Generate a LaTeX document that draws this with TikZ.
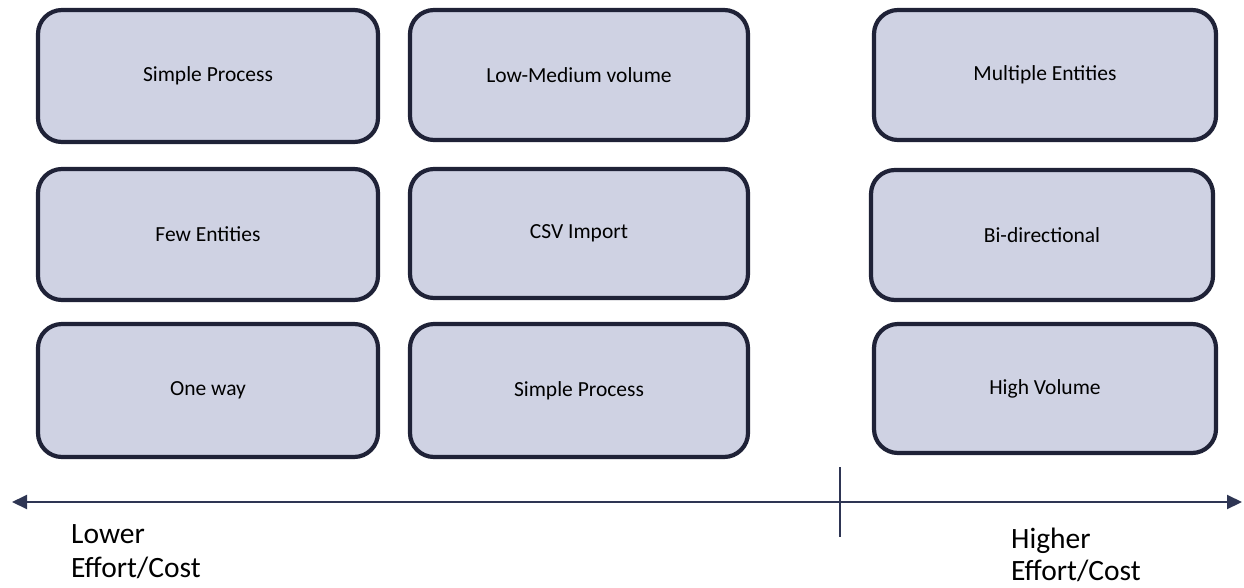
\documentclass[tikz,border=0pt]{standalone}
\usepackage{fontspec}
\setmainfont{Carlito}
\usetikzlibrary{arrows.meta}
\definecolor{boxfill}{HTML}{CFD2E3}
\definecolor{boxline}{HTML}{1F2237}
\definecolor{axis}{HTML}{2E3553}
\tikzset{
  card/.style={draw=boxline, fill=boxfill, line width=4.2pt, rounded corners=24pt, font=\fontsize{21.5}{25}\selectfont, text=black},
  axislabel/.style={anchor=base west, inner sep=0pt, font=\fontsize{29.5}{34}\selectfont, text=black},
}
\newcommand{\card}[6]{%
  \node[card, minimum width=#4-#2, minimum height=#5-#3] (#1) at ({(#2+#4)/2},{(#3+#5)/2+2}) {#6};}
\begin{document}
\begin{tikzpicture}[x=1pt,y=-1pt]
\useasboundingbox (0,0) rectangle (1244,587);
\card{a1}{38}{8}{378}{140}{Simple Process}
\card{a2}{410}{8}{748}{138}{Low-Medium volume}
\card{a3}{874}{8}{1216}{138}{Multiple Entities}
\card{b1}{38}{167}{378}{298}{Few Entities}
\card{b2}{410}{167}{748}{296}{CSV Import}
\card{b3}{871}{168}{1213}{298}{Bi-directional}
\card{c1}{38}{322}{378}{455}{One way}
\card{c2}{410}{322}{748}{455}{Simple Process}
\card{c3}{874}{322}{1216}{451}{High Volume}
\coordinate (axL) at (12,502);
\coordinate (axR) at (1242,502);
\coordinate (tkT) at (840,467);
\coordinate (tkB) at (840,537);
\draw[axis, line width=2pt, {Triangle[length=15pt,width=14pt]}-{Triangle[length=15pt,width=14pt]}] (axL) -- (axR);
\draw[axis, line width=1.6pt] (tkT) -- (tkB);
\node[axislabel] (lo1) at (71,543) {Lower};
\node[axislabel] (lo2) at (71,577) {Effort/Cost};
\node[axislabel] (hi1) at (1011,548) {Higher};
\node[axislabel] (hi2) at (1011,580) {Effort/Cost};
\end{tikzpicture}
\end{document}
